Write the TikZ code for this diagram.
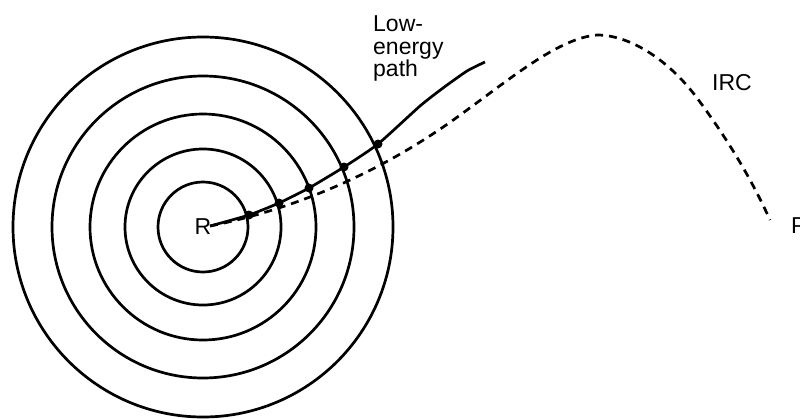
\documentclass[tikz,border=0pt]{standalone}
\usepackage{fontspec}
\setmainfont{Liberation Sans}
\begin{document}
\begin{tikzpicture}[x=1pt,y=-1pt,
  ring/.style={line width=2.7pt},
  lep/.style={line width=2.7pt},
  ircline/.style={line width=2.7pt, dash pattern=on 8pt off 6pt},
  stop/.style={circle, fill=black, inner sep=0pt, minimum size=9pt},
  lbl/.style={inner sep=0pt, font=\fontsize{23}{22.5}\selectfont}]
\useasboundingbox (0,0) rectangle (800,418);
\coordinate (c) at (203,227);
\foreach \r in {45,78,113,151,190} \draw[ring] (c) circle[radius=\r];
\node[lbl, fill=white, inner sep=0.5pt] (R) at (203,226.7) {R};
\node[lbl, anchor=base west] (P) at (791,233) {P};
\node[lbl, anchor=base west] (IRC) at (712,90) {IRC};
\node[lbl, anchor=north west, align=left] (LEP) at (373,15.5) {Low-\\energy\\path};
\coordinate (s0) at (210,226);
\coordinate (lepend) at (485,62);
\coordinate (ircend) at (770,220);
\draw[ircline] (s0) .. controls (290,210) and (380,175) .. (467,110)
  .. controls (515,75) and (560,38) .. (597,35)
  .. controls (630,35) and (670,60) .. (700,102)
  .. controls (728,140) and (752,180) .. (ircend);
\draw[lep] plot[smooth, tension=0.35] coordinates {(s0) (249,215) (279,203) (309,188) (344,167) (378,144) (420,106) (443,88) (467,71) (lepend)};
\node[stop] (d1) at (249,215) {};
\node[stop] (d2) at (279,203) {};
\node[stop] (d3) at (309,188) {};
\node[stop] (d4) at (344,167) {};
\node[stop] (d5) at (378,144) {};
\end{tikzpicture}
\end{document}
